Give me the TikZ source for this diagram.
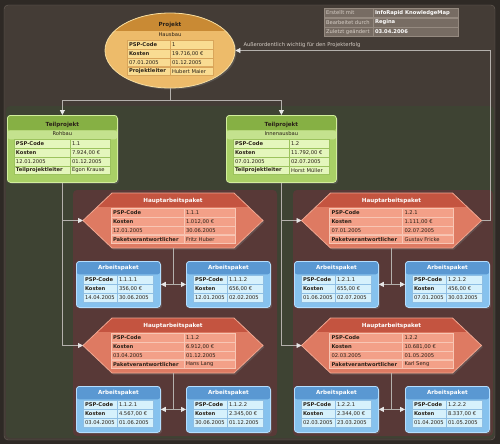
\documentclass[tikz,border=0pt]{standalone}
\usepackage{fontspec}
\setmainfont{DejaVu Sans}
\usetikzlibrary{arrows.meta,shapes.geometric,shadows}

\definecolor{bgdark}{HTML}{2E2925}
\definecolor{bgframe}{HTML}{443C36}
\definecolor{framelin}{HTML}{6B6159}
\definecolor{olivebg}{HTML}{3E4333}
\definecolor{maroonbg}{HTML}{583937}
\definecolor{linkgray}{HTML}{B4B0AC}
\definecolor{tipgray}{HTML}{E6E6E6}
\definecolor{celltext}{HTML}{2A2118}
% Projekt
\definecolor{projbody}{HTML}{EDBB6A}
\definecolor{projband}{HTML}{C98A34}
\definecolor{projline}{HTML}{F6DDA0}
\definecolor{projcell}{HTML}{F9DC92}
\definecolor{projcellline}{HTML}{D9A55A}
% Teilprojekt
\definecolor{tpbody}{HTML}{A9D066}
\definecolor{tpband}{HTML}{86B044}
\definecolor{tpsub}{HTML}{C4E28E}
\definecolor{tpline}{HTML}{D2EE9C}
\definecolor{tpcell}{HTML}{E4F6BC}
\definecolor{tpcellline}{HTML}{9CC25E}
% Hauptarbeitspaket
\definecolor{hapbody}{HTML}{DE7A62}
\definecolor{hapband}{HTML}{C45440}
\definecolor{hapline}{HTML}{EFA690}
\definecolor{hapcell}{HTML}{F3A088}
\definecolor{hapcellline}{HTML}{F8C6B4}
% Arbeitspaket
\definecolor{apbody}{HTML}{86C2EE}
\definecolor{apband}{HTML}{5A98D2}
\definecolor{apline}{HTML}{B4DEFF}
\definecolor{apcell}{HTML}{D6F1FC}
\definecolor{apcellline}{HTML}{8FBFE4}
% Info
\definecolor{infocell}{HTML}{776C63}
\definecolor{infoline}{HTML}{958A80}
\definecolor{infotxt}{HTML}{D6CEC6}

\tikzset{
  link/.style={draw=linkgray, line width=0.8pt, -{Triangle[width=5pt,length=5pt,color=tipgray]}},
  linklabel/.style={font=\fontsize{5.2}{6}\selectfont, text=infotxt, inner sep=1pt},
  celltxt/.style={anchor=west, inner sep=1.8pt, font=\fontsize{5.2}{6}\selectfont, text=celltext},
  titletxt/.style={font=\bfseries\fontsize{5.6}{6.5}\selectfont, inner sep=0pt},
  subtxt/.style={font=\fontsize{5.2}{6}\selectfont, inner sep=0pt, text=celltext},
  projtab/.style={fill=projcell, draw=projcellline, line width=0.5pt},
  tptab/.style={fill=tpcell, draw=tpcellline, line width=0.5pt},
  haptab/.style={fill=hapcell, draw=hapcellline, line width=0.5pt},
  aptab/.style={fill=apcell, draw=apcellline, line width=0.5pt},
  infotab/.style={fill=infocell, draw=infoline, line width=0.5pt},
  cardshadow/.style={drop shadow={opacity=0.35, shadow xshift=1.5pt, shadow yshift=-1.5pt}},
  projshape/.style={ellipse, minimum width=130pt, minimum height=75pt, inner sep=0pt,
    fill=projbody, draw=projline, line width=0.8pt, cardshadow,
    path picture={\fill[projband] (path picture bounding box.north west)
      rectangle ([yshift=-18pt]path picture bounding box.north east);}},
  tpcard/.style={anchor=north west, minimum width=110pt, minimum height=67pt, inner sep=0pt,
    rounded corners=3pt, fill=tpbody, draw=tpline, line width=0.8pt, cardshadow,
    path picture={\fill[tpband] (path picture bounding box.north west)
      rectangle ([yshift=-15pt]path picture bounding box.north east);
      \fill[tpsub] ([yshift=-15pt]path picture bounding box.north west)
      rectangle ([yshift=-24pt]path picture bounding box.north east);}},
  hapshape/.style={fill=hapbody, draw=hapline, line width=0.8pt, cardshadow,
    path picture={\fill[hapband] (path picture bounding box.north west)
      rectangle ([yshift=-14pt]path picture bounding box.north east);}},
  apcard/.style={anchor=north west, minimum width=84pt, minimum height=46pt, inner sep=0pt,
    rounded corners=3pt, fill=apbody, draw=apline, line width=0.8pt, cardshadow,
    path picture={\fill[apband] (path picture bounding box.north west)
      rectangle ([yshift=-13pt]path picture bounding box.north east);}},
}

% one table row: name, cell style, x left, x split, x right, y, left text, right text
\newcommand{\tabrow}[8]{%
  \path[#2] (#3,#6-4.3) rectangle (#4,#6+4.3) (#4,#6-4.3) rectangle (#5,#6+4.3);
  \node[celltxt] (#1l) at (#3,#6) {#7};
  \node[celltxt] (#1r) at (#4,#6) {#8};
}

% Teilprojekt: name, x left, subtitle, code, kosten, start, ende, leiter
\newcommand{\teilprojekt}[8]{%
  \node[tpcard] (#1) at (#2,115) {};
  \node[titletxt, text=celltext] (#1t) at ([yshift=-9.5pt]#1.north) {Teilprojekt};
  \node[subtxt] (#1u) at ([yshift=-19pt]#1.north) {#3};
  \tabrow{#1a}{tptab}{#2+7}{#2+63}{#2+103}{144}{\textbf{PSP-Code}}{#4}
  \tabrow{#1b}{tptab}{#2+7}{#2+63}{#2+103}{152.8}{\textbf{Kosten}}{#5}
  \tabrow{#1c}{tptab}{#2+7}{#2+63}{#2+103}{161.6}{#6}{#7}
  \tabrow{#1d}{tptab}{#2+7}{#2+63}{#2+103}{170.4}{\textbf{Teilprojektleiter}}{#8}
}

% Hauptarbeitspaket: name, centre x, top y, code, kosten, start, ende, verantwortlich
\newcommand{\hauptpaket}[8]{%
  \draw[hapshape] (#2-90,#3+27.5) -- (#2-61,#3) -- (#2+61,#3) -- (#2+90,#3+27.5)
    -- (#2+61,#3+55) -- (#2-61,#3+55) -- cycle;
  \coordinate (#1w) at (#2-90,#3+27.5);
  \coordinate (#1e) at (#2+90,#3+27.5);
  \coordinate (#1s) at (#2,#3+55);
  \node[titletxt, text=white] (#1t) at (#2,#3+7.5) {Hauptarbeitspaket};
  \tabrow{#1a}{haptab}{#2-62}{#2+11}{#2+62}{#3+20}{\textbf{PSP-Code}}{#4}
  \tabrow{#1b}{haptab}{#2-62}{#2+11}{#2+62}{#3+28.7}{\textbf{Kosten}}{#5}
  \tabrow{#1c}{haptab}{#2-62}{#2+11}{#2+62}{#3+37.4}{#6}{#7}
  \tabrow{#1d}{haptab}{#2-62}{#2+11}{#2+62}{#3+46.1}{\textbf{Paketverantwortlicher}}{#8}
}

% Arbeitspaket: name, x left, y top, code, kosten, start, ende
\newcommand{\arbeitspaket}[7]{%
  \node[apcard] (#1) at (#2,#3) {};
  \node[titletxt, text=white] (#1t) at ([yshift=-7pt]#1.north) {Arbeitspaket};
  \tabrow{#1a}{aptab}{#2+7}{#2+41}{#2+77}{#3+19}{\textbf{PSP-Code}}{#4}
  \tabrow{#1b}{aptab}{#2+7}{#2+41}{#2+77}{#3+28}{\textbf{Kosten}}{#5}
  \tabrow{#1c}{aptab}{#2+7}{#2+41}{#2+77}{#3+37}{#6}{#7}
}

\begin{document}
\begin{tikzpicture}[x=1pt,y=-1pt]
\useasboundingbox (0,0) rectangle (500,444);
% background areas
\fill[bgdark] (0,0) rectangle (500,444);
\draw[framelin, fill=bgframe, rounded corners=4pt] (4,5) rectangle (495,440);
\fill[olivebg, rounded corners=4pt] (6,106) rectangle (494,438);
\fill[maroonbg, rounded corners=4pt] (73,190) rectangle (277,436);
\fill[maroonbg, rounded corners=4pt] (293,190) rectangle (493,436);

% info box
\tabrow{infa}{infotab}{324}{373}{458}{13}{\textcolor{infotxt}{Erstellt mit}}{\textcolor{white}{\textbf{InfoRapid KnowledgeMap}}}
\tabrow{infb}{infotab}{324}{373}{458}{22.5}{\textcolor{infotxt}{Bearbeitet durch}}{\textcolor{white}{\textbf{Regina}}}
\tabrow{infc}{infotab}{324}{373}{458}{32}{\textcolor{infotxt}{Zuletzt geändert}}{\textcolor{white}{\textbf{03.04.2006}}}

% Projekt
\node[projshape] (proj) at (170,50.5) {};
\node[titletxt, text=celltext] (projt) at (170,25) {Projekt};
\node[subtxt] (proju) at (170,35) {Hausbau};
\tabrow{pa}{projtab}{127}{170}{213}{45}{\textbf{PSP-Code}}{1}
\tabrow{pb}{projtab}{127}{170}{213}{53.7}{\textbf{Kosten}}{19.716,00 €}
\tabrow{pc}{projtab}{127}{170}{213}{62.4}{07.01.2005}{01.12.2005}
\tabrow{pd}{projtab}{127}{170}{213}{71.1}{\textbf{Projektleiter}}{Hubert Maier}

% Teilprojekte
\teilprojekt{tp1}{7}{Rohbau}{1.1}{7.924,00 €}{12.01.2005}{01.12.2005}{Egon Krause}
\teilprojekt{tp2}{226}{Innenausbau}{1.2}{11.792,00 €}{07.01.2005}{02.07.2005}{Horst Müller}

% Hauptarbeitspakete
\hauptpaket{h111}{173}{193}{1.1.1}{1.012,00 €}{12.01.2005}{30.06.2005}{Fritz Huber}
\hauptpaket{h121}{391.5}{193}{1.2.1}{1.111,00 €}{07.01.2005}{02.07.2005}{Gustav Fricke}
\hauptpaket{h112}{173}{318}{1.1.2}{6.912,00 €}{03.04.2005}{01.12.2005}{Hans Lang}
\hauptpaket{h122}{391.5}{318}{1.2.2}{10.681,00 €}{02.03.2005}{01.05.2005}{Karl Seng}

% Arbeitspakete
\arbeitspaket{a1111}{76}{261}{1.1.1.1}{356,00 €}{14.04.2005}{30.06.2005}
\arbeitspaket{a1112}{186}{261}{1.1.1.2}{656,00 €}{12.01.2005}{02.02.2005}
\arbeitspaket{a1211}{294}{261}{1.2.1.1}{655,00 €}{01.06.2005}{02.07.2005}
\arbeitspaket{a1212}{405}{261}{1.2.1.2}{456,00 €}{07.01.2005}{30.03.2005}
\arbeitspaket{a1121}{76}{386}{1.1.2.1}{4.567,00 €}{03.04.2005}{01.06.2005}
\arbeitspaket{a1122}{186}{386}{1.1.2.2}{2.345,00 €}{30.06.2005}{01.12.2005}
\arbeitspaket{a1221}{294}{386}{1.2.2.1}{2.344,00 €}{02.03.2005}{23.03.2005}
\arbeitspaket{a1222}{405}{386}{1.2.2.2}{8.337,00 €}{01.04.2005}{01.05.2005}

% connectors
\coordinate (jp) at (170,100);
\draw[link] (proj.south) -- (jp) -| (tp1.north);
\draw[link] (jp) -| (tp2.north);
\draw[link] (tp1.south) |- (h111w);
\draw[link] (tp1.south) |- (h112w);
\draw[link] (tp2.south) |- (h121w);
\draw[link] (tp2.south) |- (h122w);
\draw[link] (h111s) |- (a1111.east);
\draw[link] (h111s) |- (a1112.west);
\draw[link] (h121s) |- (a1211.east);
\draw[link] (h121s) |- (a1212.west);
\draw[link] (h112s) |- (a1121.east);
\draw[link] (h112s) |- (a1122.west);
\draw[link] (h122s) |- (a1221.east);
\draw[link] (h122s) |- (a1222.west);
\coordinate (imp) at (490,220.5);
\draw[link] (h121e) -- (imp) |- (proj.east);
\node[linklabel, anchor=south west] (implabel) at ([xshift=7pt,yshift=1.5pt]proj.east)
  {Außerordentlich wichtig für den Projekterfolg};
\end{tikzpicture}
\end{document}
